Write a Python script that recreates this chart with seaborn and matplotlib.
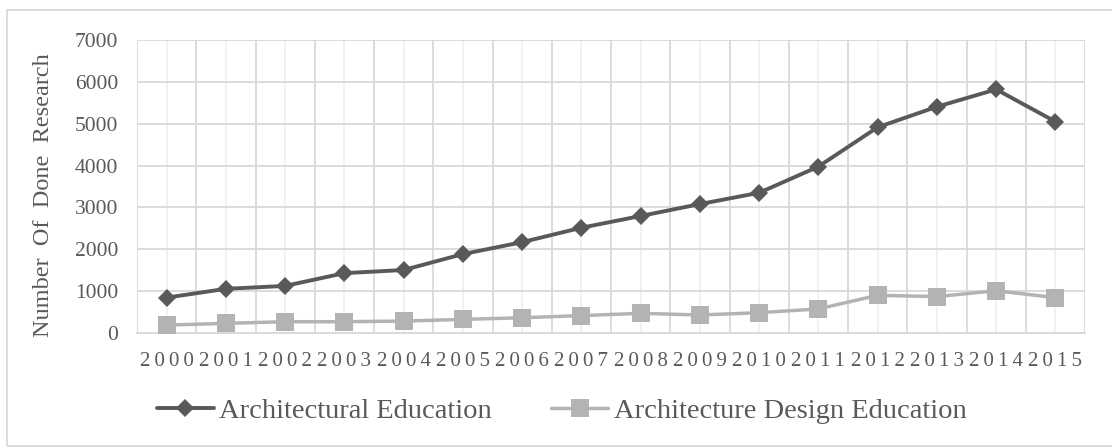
import numpy as np
import pandas as pd
import matplotlib
matplotlib.use("Agg")
import matplotlib.pyplot as plt
from matplotlib.patches import Rectangle
from matplotlib.ticker import FixedLocator
import seaborn as sns

# values
years = ["2000", "2001", "2002", "2003", "2004", "2005", "2006", "2007",
         "2008", "2009", "2010", "2011", "2012", "2013", "2014", "2015"]
arch_edu = [845, 1055, 1125, 1430, 1505, 1885, 2170, 2515,
            2795, 3080, 3350, 3975, 4915, 5405, 5820, 5050]
arch_design_edu = [190, 230, 270, 270, 285, 325, 365, 415,
                   470, 430, 485, 575, 900, 870, 1010, 845]
series_names = ["Architectural Education", "Architecture Design Education"]

DARK = "#595959"
LIGHT = "#b3b3b3"
GRID = "#d9d9d9"

sns.set_style("white")
plt.rcParams["font.family"] = ["Liberation Serif", "DejaVu Serif"]
plt.rcParams["text.color"] = DARK

pos = np.arange(len(years))
df = pd.DataFrame({
    "pos": np.concatenate([pos, pos]),
    "value": arch_edu + arch_design_edu,
    "series": [series_names[0]] * len(years) + [series_names[1]] * len(years),
})

fig = plt.figure(figsize=(11.12, 4.47), dpi=100)
ax = fig.add_axes([137 / 1112, 1 - 333 / 447, (1085 - 137) / 1112, (333 - 40) / 447])

sns.lineplot(data=df, x="pos", y="value", hue="series", style="series",
             palette={series_names[0]: DARK, series_names[1]: LIGHT},
             markers={series_names[0]: "D", series_names[1]: "s"},
             dashes=False, ax=ax, legend=False, linewidth=2.8,
             markeredgewidth=0, zorder=3)
for line, ms in zip(ax.lines, [8.7, 12.5]):
    line.set_markersize(ms)
    line.set_solid_joinstyle("round")
    line.set_solid_capstyle("round")
ax.lines[1].set_linewidth(2.5)

ax.set_xlim(-0.5, len(years) - 0.5)
ax.set_ylim(0, 7000)
ax.set_yticks(np.arange(0, 7001, 1000))
ax.xaxis.set_major_locator(FixedLocator(np.arange(-0.5, len(years), 1.0)))
ax.xaxis.set_minor_locator(FixedLocator(pos))
ax.set_xticklabels([], minor=False)
ax.set_xticklabels(["\u2009".join(y) for y in years], minor=True)

ax.grid(True, which="major", color=GRID, linewidth=1.3)
ax.grid(True, which="minor", axis="x", color="#f0f0f0", linewidth=1.3)
ax.set_axisbelow(True)

for s in ["top", "right", "left"]:
    ax.spines[s].set_visible(False)
ax.spines["bottom"].set_color(GRID)
ax.spines["bottom"].set_linewidth(1.3)

ax.tick_params(axis="y", length=0, pad=13.5, labelsize=15.5, labelcolor=DARK)
ax.tick_params(axis="x", which="major", length=5, color=GRID, width=1.3)
ax.tick_params(axis="x", which="minor", length=0, pad=14, labelsize=15,
               labelcolor=DARK)

ax.set_xlabel("")
ax.set_ylabel("Number  Of  Done  Research", fontsize=17.5, color=DARK)
ax.yaxis.set_label_coords(-0.088, 0.47)

handles = [
    plt.Line2D([], [], color=DARK, linewidth=2.8, marker="D", markersize=8.7,
               markeredgewidth=0),
    plt.Line2D([], [], color=LIGHT, linewidth=2.5, marker="s", markersize=12.5,
               markeredgewidth=0),
]
fig.legend(handles, series_names, loc="center", bbox_to_anchor=(0.505, 1 - 411 / 447),
           ncol=2, frameon=False, fontsize=20.5, handlelength=2.0,
           handletextpad=0.18, columnspacing=2.1, labelcolor=DARK)

fig.add_artist(Rectangle((7 / 1112, 1 / 447), 1.2, (446 - 10) / 447,
                         transform=fig.transFigure, fill=False,
                         edgecolor=GRID, linewidth=1.3))

fig.savefig("out.png", dpi=100)
